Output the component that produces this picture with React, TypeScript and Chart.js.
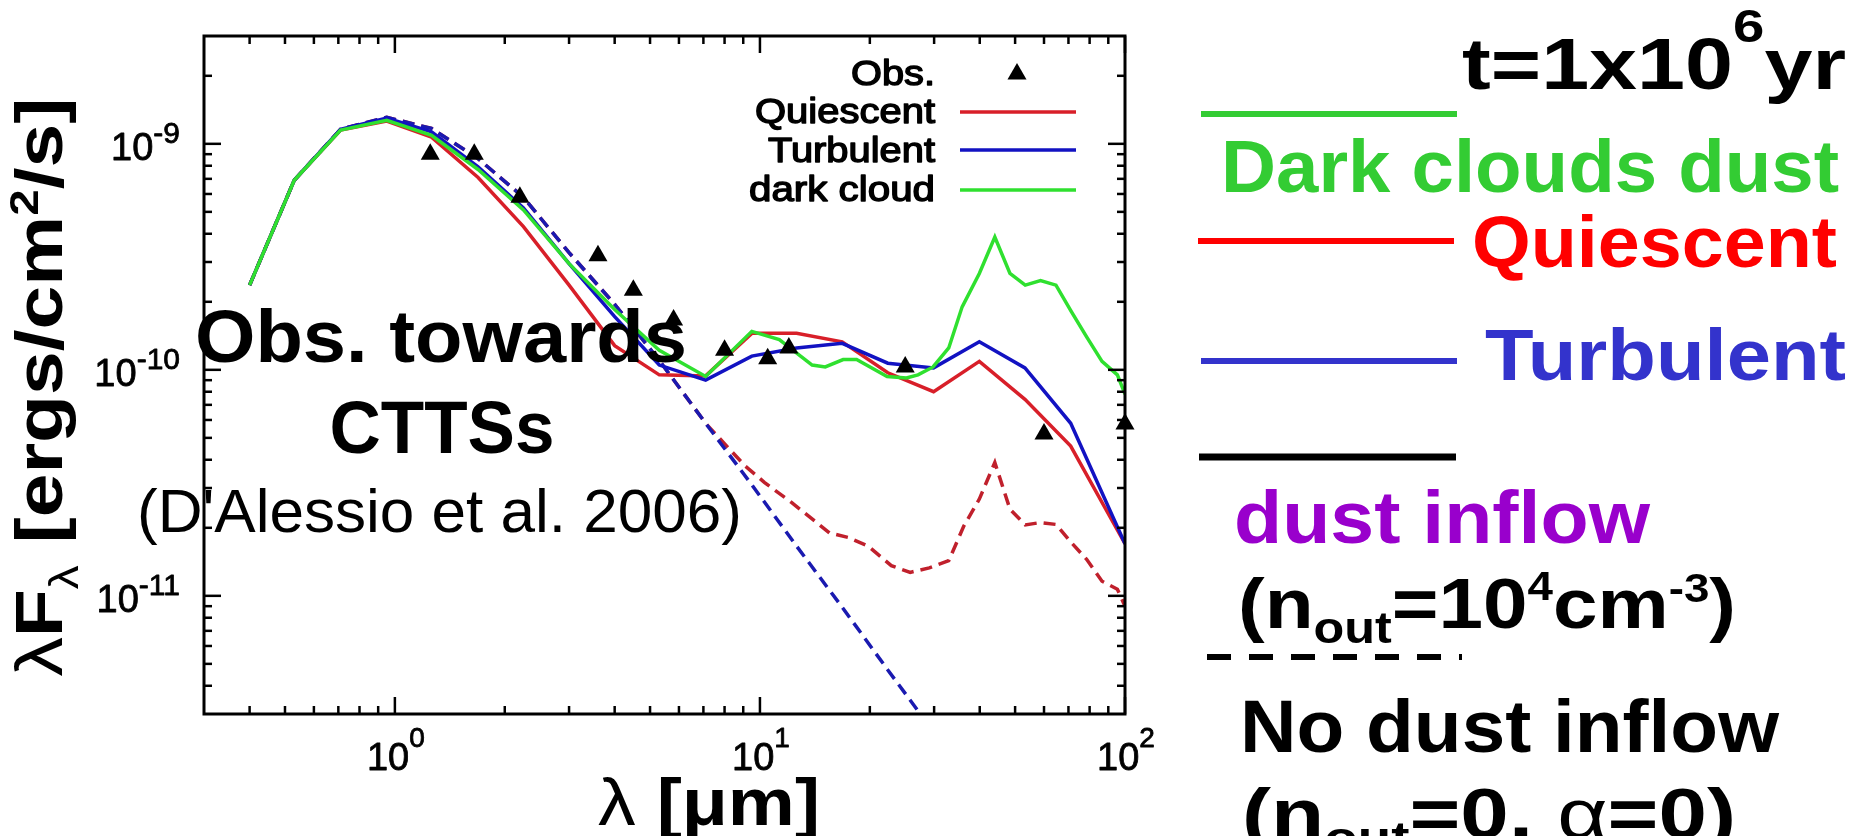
import React, { useEffect, useRef } from "react";
import { Chart, registerables } from "chart.js";

Chart.register(...registerables);

// ---------------- data ----------------
const modelLambda = [0.40, 0.53, 0.71, 0.95, 1.26, 1.69, 2.25, 3.0, 4.0, 5.3, 7.1, 9.5, 12.6, 16.8, 22.4, 29.9, 39.9, 53.2, 71.0, 100];
const quiescentFlux = [2.37e-10, 6.9e-10, 1.15e-9, 1.26e-9, 1.07e-9, 7.1e-10, 4.3e-10, 2.37e-10, 1.28e-10, 9.5e-11, 9.4e-11, 1.45e-10, 1.45e-10, 1.33e-10, 9.7e-11, 8.0e-11, 1.09e-10, 7.4e-11, 4.6e-11, 1.7e-11];
const turbulentFlux = [2.37e-10, 6.9e-10, 1.16e-9, 1.30e-9, 1.13e-9, 7.9e-10, 5.2e-10, 2.95e-10, 1.72e-10, 1.05e-10, 9.0e-11, 1.15e-10, 1.25e-10, 1.31e-10, 1.07e-10, 1.02e-10, 1.33e-10, 1.02e-10, 5.8e-11, 1.7e-11];

const darkLambda = [0.40, 0.53, 0.71, 0.95, 1.26, 1.69, 2.25, 3.0, 4.0, 5.3, 7.1, 9.5, 11.3, 13.9, 15.1, 16.9, 18.4, 22.3, 25.2, 27.1, 29.8, 32.9, 35.8, 39.9, 44.0, 48.4, 53.3, 58.7, 64.7, 71.3, 78.5, 86.5, 95.3, 100];
const darkCloudFlux = [2.37e-10, 6.9e-10, 1.15e-9, 1.27e-9, 1.09e-9, 7.7e-10, 5.1e-10, 2.95e-10, 1.85e-10, 1.22e-10, 9.35e-11, 1.48e-10, 1.36e-10, 1.05e-10, 1.03e-10, 1.11e-10, 1.11e-10, 9.35e-11, 9.2e-11, 9.5e-11, 1.03e-10, 1.25e-10, 1.9e-10, 2.67e-10, 3.87e-10, 2.67e-10, 2.37e-10, 2.48e-10, 2.37e-10, 1.81e-10, 1.40e-10, 1.09e-10, 9.5e-11, 7.8e-11];

const noInflowTurbLambda = [0.40, 0.53, 0.71, 0.95, 1.26, 1.69, 2.25, 3.0, 4.0, 5.3, 7.1, 9.5, 12.6, 16.8, 22.4, 29.9];
const noInflowTurbFlux = [2.37e-10, 6.9e-10, 1.16e-9, 1.31e-9, 1.17e-9, 8.6e-10, 5.8e-10, 3.3e-10, 1.95e-10, 1.1e-10, 5.8e-11, 3.1e-11, 1.66e-11, 8.9e-12, 4.7e-12, 2.5e-12];

const noInflowQuiesLambda = [0.40, 0.53, 0.71, 0.95, 1.26, 1.69, 2.25, 3.0, 4.0, 5.3, 7.1, 9.1, 10.3, 12.2, 15.5, 17.5, 19.8, 22.9, 25.8, 29.1, 32.9, 36.2, 39.9, 44.0, 48.4, 53.3, 58.7, 64.7, 71.3, 78.5, 86.5, 95.3, 100];
const noInflowQuiesFlux = [2.37e-10, 6.9e-10, 1.16e-9, 1.31e-9, 1.17e-9, 8.6e-10, 5.8e-10, 3.3e-10, 1.95e-10, 1.1e-10, 5.8e-11, 3.76e-11, 3.17e-11, 2.59e-11, 1.9e-11, 1.81e-11, 1.66e-11, 1.36e-11, 1.27e-11, 1.33e-11, 1.43e-11, 2.04e-11, 2.68e-11, 3.89e-11, 2.42e-11, 2.06e-11, 2.11e-11, 2.07e-11, 1.72e-11, 1.45e-11, 1.16e-11, 1.07e-11, 9.0e-12];

const obsLambda = [1.25, 1.65, 2.2, 3.6, 4.5, 5.8, 8.0, 10.5, 12, 25, 60, 100];
const obsFlux = [9.0e-10, 9.0e-10, 5.8e-10, 3.2e-10, 2.25e-10, 1.66e-10, 1.22e-10, 1.12e-10, 1.25e-10, 1.03e-10, 5.2e-11, 5.76e-11];

const xMajorTicks = [1, 10, 100];
const xMajorExponents = ["0", "1", "2"];
const xMinorTicks = [0.4, 0.5, 0.6, 0.7, 0.8, 0.9, 2, 3, 4, 5, 6, 7, 8, 9, 20, 30, 40, 50, 60, 70, 80, 90];
const yMajorTicks = [1e-11, 1e-10, 1e-9];
const yMajorExponents = ["-11", "-10", "-9"];
const yMinorTicks = [4e-12, 5e-12, 6e-12, 7e-12, 8e-12, 9e-12, 2e-11, 3e-11, 4e-11, 5e-11, 6e-11, 7e-11, 8e-11, 9e-11, 2e-10, 3e-10, 4e-10, 5e-10, 6e-10, 7e-10, 8e-10, 9e-10, 2e-9];

const legendLabels = ["Obs.", "Quiescent", "Turbulent", "dark cloud"];

// ---------------- colours ----------------
const RED = "#d81f29";
const BLUE = "#1212c2";
const GREEN = "#2fe02f";
const RED_DASH = "#c0202c";
const BLUE_DASH = "#1a1ab0";

type Run = { t: string; size: number; bold?: boolean; dy?: number; color?: string };
const FAMILY = '"Liberation Sans", Arial, sans-serif';
const runFont = (r: Run) => `${r.bold ? "bold " : ""}${r.size}px ${FAMILY}`;

function drawRuns(
  ctx: CanvasRenderingContext2D,
  runs: Run[],
  x: number,
  y: number,
  align: "left" | "right" | "center",
  color: string,
  targetWidth?: number,
  thicken = 0
) {
  const ws = runs.map((r) => {
    ctx.font = runFont(r);
    return ctx.measureText(r.t).width;
  });
  const total = ws.reduce((a, b) => a + b, 0);
  const sx = targetWidth ? targetWidth / total : 1;
  const w = total * sx;
  const x0 = align === "left" ? x : align === "right" ? x - w : x - w / 2;
  ctx.save();
  ctx.translate(x0, y);
  ctx.scale(sx, 1);
  ctx.textAlign = "left";
  ctx.textBaseline = "alphabetic";
  ctx.lineJoin = "round";
  let cx = 0;
  runs.forEach((r, i) => {
    ctx.font = runFont(r);
    ctx.fillStyle = r.color || color;
    ctx.fillText(r.t, cx, r.dy || 0);
    if (thicken > 0) {
      ctx.strokeStyle = r.color || color;
      ctx.lineWidth = thicken;
      ctx.strokeText(r.t, cx, r.dy || 0);
    }
    cx += ws[i];
  });
  ctx.restore();
}

function hLine(ctx: CanvasRenderingContext2D, x1: number, x2: number, y: number, color: string, w: number, dash: number[] = []) {
  ctx.save();
  ctx.strokeStyle = color;
  ctx.lineWidth = w;
  ctx.setLineDash(dash);
  ctx.beginPath();
  ctx.moveTo(x1, y);
  ctx.lineTo(x2, y);
  ctx.stroke();
  ctx.restore();
}

const decorPlugin = {
  id: "decor",
  afterDraw(chart: any) {
    const ctx: CanvasRenderingContext2D = chart.ctx;
    const a = chart.chartArea;
    const xs = chart.scales.x;
    const ys = chart.scales.y;

    // frame
    ctx.save();
    ctx.strokeStyle = "#000";
    ctx.lineWidth = 3;
    ctx.strokeRect(a.left, a.top, a.right - a.left, a.bottom - a.top);

    // inward ticks on all four sides
    ctx.lineWidth = 2.5;
    const tick = (x1: number, y1: number, x2: number, y2: number) => {
      ctx.beginPath();
      ctx.moveTo(x1, y1);
      ctx.lineTo(x2, y2);
      ctx.stroke();
    };
    xMajorTicks.forEach((v) => {
      const p = xs.getPixelForValue(v);
      tick(p, a.bottom, p, a.bottom - 17);
      tick(p, a.top, p, a.top + 17);
    });
    xMinorTicks.forEach((v) => {
      const p = xs.getPixelForValue(v);
      tick(p, a.bottom, p, a.bottom - 8);
      tick(p, a.top, p, a.top + 8);
    });
    yMajorTicks.forEach((v) => {
      const p = ys.getPixelForValue(v);
      tick(a.left, p, a.left + 17, p);
      tick(a.right, p, a.right - 17, p);
    });
    yMinorTicks.forEach((v) => {
      const p = ys.getPixelForValue(v);
      tick(a.left, p, a.left + 8, p);
      tick(a.right, p, a.right - 8, p);
    });
    ctx.restore();

    // tick labels
    xMajorTicks.forEach((v, i) => {
      const p = xs.getPixelForValue(v);
      drawRuns(ctx, [{ t: "10", size: 38 }, { t: xMajorExponents[i], size: 28, dy: -23 }], p + 1, 770, "center", "#000", undefined, 0.8);
    });
    yMajorTicks.forEach((v, i) => {
      const p = ys.getPixelForValue(v);
      drawRuns(ctx, [{ t: "10", size: 38 }, { t: yMajorExponents[i], size: 30, dy: -17 }], 180, p + 16, "right", "#000", undefined, 0.8);
    });

    // axis titles
    ctx.save();
    ctx.translate(62, 387);
    ctx.rotate(-Math.PI / 2);
    drawRuns(
      ctx,
      [
        { t: "λ", size: 66 },
        { t: "F", size: 66, bold: true },
        { t: "λ", size: 40, dy: 16 },
        { t: " [ergs/cm", size: 66, bold: true },
        { t: "2", size: 40, bold: true, dy: -24 },
        { t: "/s]", size: 66, bold: true },
      ],
      0,
      0,
      "center",
      "#000",
      579
    );
    ctx.restore();
    drawRuns(ctx, [{ t: "λ", size: 66 }, { t: " [μm]", size: 66, bold: true }], 709, 825, "center", "#000", 222);

    // legend inside the plot
    const legendBase = [85, 123, 162, 201];
    const legendW = [84, 180, 167, 186];
    legendLabels.forEach((lab, i) => {
      drawRuns(ctx, [{ t: lab, size: 35 }], 935, legendBase[i], "right", "#000", legendW[i], 1.4);
    });
    ctx.save();
    ctx.fillStyle = "#000";
    const tx = 1017, ty = 74, r = 11;
    ctx.beginPath();
    ctx.moveTo(tx, ty - r);
    ctx.lineTo(tx + r * 0.866, ty + r / 2);
    ctx.lineTo(tx - r * 0.866, ty + r / 2);
    ctx.closePath();
    ctx.fill();
    ctx.restore();
    hLine(ctx, 960, 1076, 112, RED, 3.5);
    hLine(ctx, 960, 1076, 150, BLUE, 3.5);
    hLine(ctx, 960, 1076, 190, GREEN, 3.5);

    // annotation inside the plot
    drawRuns(ctx, [{ t: "Obs. towards", size: 74, bold: true }], 195, 362, "left", "#000", 492);
    drawRuns(ctx, [{ t: "CTTSs", size: 74, bold: true }], 442, 453, "center", "#000", 225);
    drawRuns(ctx, [{ t: "(D'Alessio et al. 2006)", size: 61 }], 137, 532, "left", "#000", 605);

    // right-hand key
    drawRuns(
      ctx,
      [
        { t: "t=1x10", size: 72, bold: true },
        { t: "6", size: 47, bold: true, dy: -47 },
        { t: "yr", size: 72, bold: true },
      ],
      1462,
      89,
      "left",
      "#000",
      384
    );
    hLine(ctx, 1201, 1457, 114, "#33cc33", 6);
    drawRuns(ctx, [{ t: "Dark clouds dust", size: 75, bold: true }], 1221, 192, "left", "#33cc33", 618);
    hLine(ctx, 1198, 1454, 241, "#ff0000", 6);
    drawRuns(ctx, [{ t: "Quiescent", size: 73, bold: true }], 1472, 267, "left", "#ff0000", 365);
    hLine(ctx, 1201, 1457, 361, "#3333cc", 6);
    drawRuns(ctx, [{ t: "Turbulent", size: 73, bold: true }], 1485, 380, "left", "#3333cc", 361);
    hLine(ctx, 1199, 1456, 457, "#000", 7);
    drawRuns(ctx, [{ t: "dust inflow", size: 75, bold: true }], 1234, 543, "left", "#9900cc", 416);
    drawRuns(
      ctx,
      [
        { t: "(n", size: 70, bold: true },
        { t: "out", size: 44, bold: true, dy: 15 },
        { t: "=10", size: 70, bold: true },
        { t: "4", size: 40, bold: true, dy: -28 },
        { t: "cm", size: 70, bold: true },
        { t: "-3", size: 40, bold: true, dy: -26 },
        { t: ")", size: 70, bold: true },
      ],
      1238,
      628,
      "left",
      "#000",
      498
    );
    hLine(ctx, 1207, 1462, 657, "#000", 6, [24, 18]);
    drawRuns(ctx, [{ t: "No dust inflow", size: 75, bold: true }], 1240, 752, "left", "#000", 539);
    drawRuns(
      ctx,
      [
        { t: "(n", size: 70, bold: true },
        { t: "out", size: 44, bold: true, dy: 15 },
        { t: "=0, ", size: 70, bold: true },
        { t: "α", size: 70 },
        { t: "=0)", size: 70, bold: true },
      ],
      1242,
      838,
      "left",
      "#000",
      494
    );
  },
};

const pts = (xs: number[], ys: number[]) => xs.map((x, i) => ({ x, y: ys[i] }));

export default function App() {
  const ref = useRef<HTMLCanvasElement>(null);

  useEffect(() => {
    const canvas = ref.current;
    if (!canvas) return;
    const chart = new Chart(canvas, {
      type: "scatter",
      data: {
        datasets: [
          {
            label: legendLabels[0],
            data: pts(obsLambda, obsFlux),
            showLine: false,
            pointStyle: "triangle",
            pointRadius: 11,
            backgroundColor: "#000",
            borderColor: "#000",
            borderWidth: 0,
            clip: false,
            order: 0,
          },
          {
            label: legendLabels[3],
            data: pts(darkLambda, darkCloudFlux),
            showLine: true,
            borderColor: GREEN,
            borderWidth: 3.5,
            pointRadius: 0,
            clip: 1,
            order: 1,
          },
          {
            label: legendLabels[2],
            data: pts(modelLambda, turbulentFlux),
            showLine: true,
            borderColor: BLUE,
            borderWidth: 3.5,
            pointRadius: 0,
            clip: 1,
            order: 2,
          },
          {
            label: legendLabels[1],
            data: pts(modelLambda, quiescentFlux),
            showLine: true,
            borderColor: RED,
            borderWidth: 3.5,
            pointRadius: 0,
            clip: 1,
            order: 3,
          },
          {
            label: "Turbulent (no dust inflow)",
            data: pts(noInflowTurbLambda, noInflowTurbFlux),
            showLine: true,
            borderColor: BLUE_DASH,
            borderWidth: 3.5,
            borderDash: [12, 7],
            pointRadius: 0,
            clip: 1,
            order: 4,
          },
          {
            label: "Quiescent (no dust inflow)",
            data: pts(noInflowQuiesLambda, noInflowQuiesFlux),
            showLine: true,
            borderColor: RED_DASH,
            borderWidth: 3.5,
            borderDash: [12, 7],
            pointRadius: 0,
            clip: 1,
            order: 5,
          },
        ],
      },
      options: {
        responsive: false,
        devicePixelRatio: 1,
        animation: false,
        layout: { padding: { left: 0, top: 36, right: 1856 - 1125, bottom: 0 } },
        plugins: { legend: { display: false }, tooltip: { enabled: false } },
        scales: {
          x: {
            type: "logarithmic",
            min: 0.3,
            max: 100,
            ticks: { display: false },
            grid: { display: false },
            border: { display: false },
            afterFit: (s: any) => {
              s.height = 836 - 714;
            },
          },
          y: {
            type: "logarithmic",
            min: 3e-12,
            max: 3e-9,
            ticks: { display: false },
            grid: { display: false },
            border: { display: false },
            afterFit: (s: any) => {
              s.width = 204;
            },
          },
        },
      } as any,
      plugins: [decorPlugin],
    });
    return () => chart.destroy();
  }, []);

  return (
    <div style={{ position: "absolute", left: 0, top: 0, width: 1856, height: 836, background: "#fff", overflow: "hidden" }}>
      <canvas ref={ref} width={1856} height={836} style={{ display: "block", width: 1856, height: 836 }} />
    </div>
  );
}
